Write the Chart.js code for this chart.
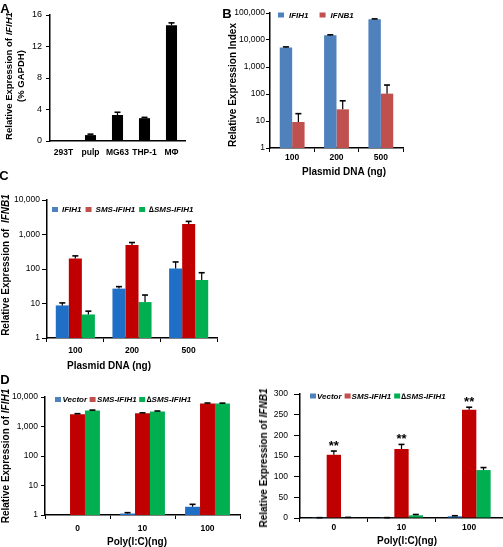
<!DOCTYPE html>
<html>
<head>
<meta charset="utf-8">
<script src="https://cdn.jsdelivr.net/npm/chart.js@4.4.1/dist/chart.umd.min.js"></script>
<style>
body { margin: 0; background: #fff; }
#figure { position: relative; width: 503px; height: 547px; overflow: hidden; background: #fff; font-family: "Liberation Sans", Arial, sans-serif; }
#figure canvas { position: absolute; }
.txt { position: absolute; white-space: nowrap; font-weight: bold; color: #000; text-align: center; transform: translate(-50%, -50%); }
.rot { transform: translate(-50%, -50%) rotate(-90deg); }
</style>
</head>
<body>
<div id="figure"></div>
<script>
//Panel A data
const cellLines = ["293T", "pulp", "MG63", "THP-1", "MΦ"];
const ifih1Gapdh = [0, 0.75, 3.3, 2.9, 14.7];
const ifih1GapdhErr = [0, 0.12, 0.35, 0.1, 0.3];

//Panel B data
const plasmidDoses = ["100", "200", "500"];
const bIfih1 = [5300, 15000, 59000];
const bIfih1Err = [250, 500, 1500];
const bIfnb1 = [9.2, 27, 103];
const bIfnb1Err = [9.5, 29, 112];
const logTicksB = [1, 10, 100, 1000, 10000, 100000];

//Panel C data
const cIfih1 = [8.8, 27, 104];
const cIfih1Err = [1.6, 3.8, 56];
const cSms = [200, 500, 2000];
const cSmsErr = [40, 85, 400];
const cDelta = [4.8, 11, 48];
const cDeltaErr = [1.2, 6.6, 30];
const logTicksCD = [1, 10, 100, 1000, 10000];

//Panel D data
const polyIC = ["0", "10", "100"];
const dlVector = [null, 1.12, 1.9];
const dlVectorErr = [0, 0.08, 0.4];
const dlSms = [2600, 2800, 6000];
const dlSmsErr = [120, 100, 250];
const dlDelta = [3500, 3250, 6000];
const dlDeltaErr = [100, 100, 200];
const drVector = [0.5, 0.6, 4];
const drVectorErr = [0.3, 0.3, 1.5];
const drSms = [153, 167, 262];
const drSmsErr = [9, 11, 6];
const drDelta = [1, 6.5, 116];
const drDeltaErr = [0.5, 2, 6];
const drStars = ["**", "**", "**"];
const linTicksD = [0, 50, 100, 150, 200, 250, 300];

const FONT = '"Liberation Sans", Arial, sans-serif';
Chart.defaults.font.family = FONT;
Chart.defaults.color = "#000";

//Bar colors and the lighter legend swatches
const blueBar = "#1f6fc6", redBar = "#c00000", greenBar = "#00b050";
const blueKey = "#4f81bd", redKey = "#c0504d", greenKey = "#00b050";

const figure = document.getElementById("figure");
const YW = 50, XH = 30, PT = 14, PR = 10;

//Error bars (and significance stars) drawn from the y scale
const errorBars = {
    id: "errorBars",
    afterDatasetsDraw(chart, args, opts) {
        const ctx = chart.ctx;
        const yScale = chart.scales.y;
        const cap = opts.cap || 3;
        ctx.save();
        ctx.strokeStyle = "#000";
        chart.data.datasets.forEach((ds, i) => {
            if (!ds.errors) return;
            chart.getDatasetMeta(i).data.forEach((bar, j) => {
                const v = ds.data[j], e = ds.errors[j];
                if (v == null) return;
                const yTop = yScale.getPixelForValue(v + (e || 0));
                if (e) {
                    ctx.lineWidth = 1.2;
                    ctx.beginPath();
                    ctx.moveTo(bar.x, bar.y);
                    ctx.lineTo(bar.x, yTop);
                    ctx.stroke();
                    ctx.lineWidth = 1.6;
                    ctx.beginPath();
                    ctx.moveTo(bar.x - cap, yTop);
                    ctx.lineTo(bar.x + cap, yTop);
                    ctx.stroke();
                }
                if (ds.stars && ds.stars[j]) {
                    ctx.fillStyle = "#000";
                    ctx.font = "bold 13px " + FONT;
                    ctx.textAlign = "center";
                    ctx.textBaseline = "alphabetic";
                    ctx.fillText(ds.stars[j], bar.x, yTop - 1);
                }
            });
        });
        ctx.restore();
    }
};

//Small legend inside the plot area
const miniLegend = {
    id: "miniLegend",
    afterDraw(chart, args, opts) {
        if (!opts || opts.x === undefined) return;
        const ctx = chart.ctx;
        const area = chart.chartArea;
        let x = area.left + opts.x;
        const cy = area.top + opts.y;
        ctx.save();
        ctx.font = "italic bold 8px " + FONT;
        ctx.textBaseline = "middle";
        ctx.textAlign = "left";
        chart.data.datasets.forEach(ds => {
            ctx.fillStyle = ds.legendColor || ds.backgroundColor;
            ctx.fillRect(x, cy - 2.5, 6, 5);
            ctx.fillStyle = "#000";
            ctx.fillText(ds.label, x + opts.textGap, cy + 0.5);
            x += opts.textGap + ctx.measureText(ds.label).width + opts.itemGap;
        });
        ctx.restore();
    }
};

Chart.register(errorBars, miniLegend);

//Place a canvas so that its plot area lands on the given box
function makeChart(area, config) {
    const canvas = document.createElement("canvas");
    const w = area.r - area.l + YW + PR;
    const h = area.b - area.t + PT + XH;
    canvas.width = w;
    canvas.height = h;
    canvas.style.left = (area.l - YW) + "px";
    canvas.style.top = (area.t - PT) + "px";
    canvas.style.width = w + "px";
    canvas.style.height = h + "px";
    figure.appendChild(canvas);

    const o = config.options;
    o.responsive = false;
    o.animation = false;
    o.layout = {padding: {top: PT, right: PR, left: 0, bottom: 0}};
    o.scales.x.afterFit = s => { s.height = XH; };
    o.scales.y.afterFit = s => { s.width = YW; };
    o.plugins = Object.assign({legend: {display: false}, tooltip: {enabled: false}}, o.plugins);
    return new Chart(canvas, config);
}

function xAxis(pad, ticks) {
    return {
        offset: true,
        border: {color: "#000", width: 1.5},
        grid: {offset: true, drawOnChartArea: false, drawTicks: ticks, color: "#000", tickLength: 4},
        ticks: {font: {size: 8.5, weight: "bold"}, padding: pad, maxRotation: 0, autoSkip: false}
    };
}

function yAxis(type, tickValues, tl, pad, size) {
    return {
        type: type,
        min: tickValues[0],
        max: tickValues[tickValues.length - 1],
        border: {color: "#000", width: 1.5},
        grid: {drawOnChartArea: false, color: "#000", tickLength: tl},
        ticks: {font: {size: size || 8.5}, padding: pad, callback: v => v.toLocaleString("en-US")},
        afterBuildTicks: s => { s.ticks = tickValues.map(v => ({value: v})); }
    };
}

function addText(html, cx, cy, size, rotate) {
    const d = document.createElement("div");
    d.className = "txt" + (rotate ? " rot" : "");
    d.style.left = cx + "px";
    d.style.top = cy + "px";
    d.style.fontSize = size + "px";
    d.style.lineHeight = "12px";
    d.innerHTML = html;
    figure.appendChild(d);
}

//Panel A
makeChart({l: 50, t: 15, r: 185, b: 141}, {
    type: "bar",
    data: {
        labels: cellLines,
        datasets: [{data: ifih1Gapdh, errors: ifih1GapdhErr, backgroundColor: "#000",
            barPercentage: 0.41, categoryPercentage: 1}]
    },
    options: {
        scales: {x: xAxis(7, false), y: yAxis("linear", [0, 4, 8, 12, 16], 4, 4, 9)},
        plugins: {errorBars: {cap: 3}}
    }
});

//Panel B
makeChart({l: 270, t: 13, r: 403, b: 148}, {
    type: "bar",
    data: {
        labels: plasmidDoses,
        datasets: [
            {label: "IFIH1", data: bIfih1, errors: bIfih1Err, backgroundColor: blueKey},
            {label: "IFNB1", data: bIfnb1, errors: bIfnb1Err, backgroundColor: redKey}
        ]
    },
    options: {
        datasets: {bar: {categoryPercentage: 0.56, barPercentage: 1}},
        scales: {x: xAxis(1, true), y: yAxis("logarithmic", logTicksB, 4, 1)},
        plugins: {miniLegend: {x: 8, y: 2, textGap: 11, itemGap: 11}}
    }
});

//Panel C
makeChart({l: 47, t: 200, r: 217, b: 338}, {
    type: "bar",
    data: {
        labels: plasmidDoses,
        datasets: [
            {label: "IFIH1", data: cIfih1, errors: cIfih1Err, backgroundColor: blueBar, legendColor: blueKey},
            {label: "SMS-IFIH1", data: cSms, errors: cSmsErr, backgroundColor: redBar, legendColor: redKey},
            {label: "∆SMS-IFIH1", data: cDelta, errors: cDeltaErr, backgroundColor: greenBar, legendColor: greenKey}
        ]
    },
    options: {
        datasets: {bar: {categoryPercentage: 0.69, barPercentage: 1}},
        scales: {x: xAxis(4, true), y: yAxis("logarithmic", logTicksCD, 5, 2)},
        plugins: {miniLegend: {x: 5, y: 9.5, textGap: 10, itemGap: 4}}
    }
});

//Panel D, IFIH1
makeChart({l: 45, t: 397, r: 240, b: 515}, {
    type: "bar",
    data: {
        labels: polyIC,
        datasets: [
            {label: "Vector", data: dlVector, errors: dlVectorErr, backgroundColor: blueBar, legendColor: blueKey},
            {label: "SMS-IFIH1", data: dlSms, errors: dlSmsErr, backgroundColor: redBar, legendColor: redKey},
            {label: "∆SMS-IFIH1", data: dlDelta, errors: dlDeltaErr, backgroundColor: greenBar, legendColor: greenKey}
        ]
    },
    options: {
        datasets: {bar: {categoryPercentage: 0.69, barPercentage: 1}},
        scales: {x: xAxis(4.5, true), y: yAxis("logarithmic", logTicksCD, 4, 3)},
        plugins: {miniLegend: {x: 10, y: 2.5, textGap: 7.5, itemGap: 2.5}}
    }
});

//Panel D, IFNB1
makeChart({l: 300, t: 394, r: 503, b: 518}, {
    type: "bar",
    data: {
        labels: polyIC,
        datasets: [
            {label: "Vector", data: drVector, errors: drVectorErr, backgroundColor: blueBar, legendColor: blueKey},
            {label: "SMS-IFIH1", data: drSms, errors: drSmsErr, stars: drStars, backgroundColor: redBar, legendColor: redKey},
            {label: "∆SMS-IFIH1", data: drDelta, errors: drDeltaErr, backgroundColor: greenBar, legendColor: greenKey}
        ]
    },
    options: {
        datasets: {bar: {categoryPercentage: 0.635, barPercentage: 1}},
        scales: {x: xAxis(1, true), y: yAxis("linear", linTicksD, 6, 6)},
        plugins: {miniLegend: {x: 10, y: 2, textGap: 7, itemGap: 3}}
    }
});

//Axis titles and panel letters
addText("Relative Expression of <i>IFIH1</i><br>(% GAPDH)", 15, 76, 9.5, true);
addText("Relative Expression Index", 233, 85, 10, true);
addText("Plasmid DNA (ng)", 344, 172, 10, false);
addText("Relative Expression of&nbsp; <i>IFNB1</i>", 6, 265, 10, true);
addText("Plasmid DNA (ng)", 109, 366, 10, false);
addText("Relative Expression of <i>IFIH1</i>", 6, 456, 10, true);
addText("Poly(I:C)(ng)", 137, 542, 10, false);
addText("Relative Expression of <i>IFNB1</i>", 264, 458, 10, true);
addText("Poly(I:C)(ng)", 407, 541, 10, false);
addText("A", 5, 9, 13, false);
addText("B", 227, 14, 13, false);
addText("C", 4, 176, 13, false);
addText("D", 5, 380, 13, false);
</script>
</body>
</html>
